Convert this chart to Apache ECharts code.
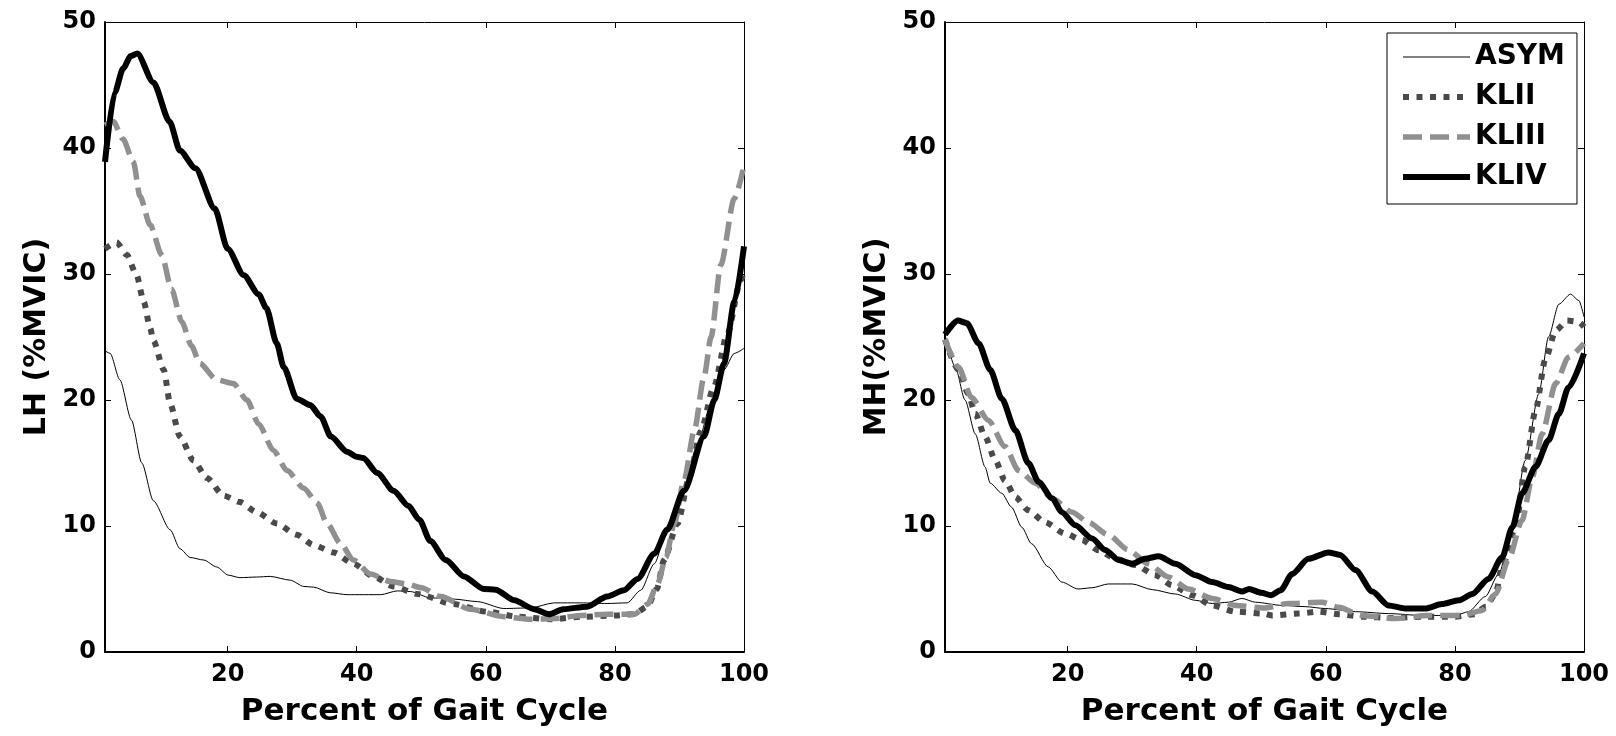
<!DOCTYPE html>
<html>
<head>
<meta charset="utf-8">
<script src="https://cdn.jsdelivr.net/npm/echarts@6/dist/echarts.min.js"></script>
<style>
  html, body { margin: 0; padding: 0; background: #fff; }
  #main { width: 1616px; height: 736px; }
</style>
</head>
<body>
<div id="main"></div>
<script>
// group names, in plotting order
const groupNames = ['ASYM', 'KLII', 'KLIII', 'KLIV'];
const xTicks = [20, 40, 60, 80, 100];
const xTitle = 'Percent of Gait Cycle';
const yTitles = ['LH (%MVIC)', 'MH(%MVIC)'];

// lateral hamstrings, [percent of gait cycle, %MVIC]
const lhAsym = [[1,23.9],[1.8,23.7],[3.3,21.6],[5.1,18.4],[6.7,15.0],[8.5,12.0],[11.1,9.7],[12.6,8.2],[14.2,7.5],[16.3,7.3],[18.3,6.75],[20.1,6.1],[21.9,5.9],[24.5,5.95],[26.6,6.0],[29.7,5.7],[31.8,5.2],[33.3,5.15],[35.9,4.7],[38.5,4.55],[43.7,4.55],[46.3,4.85],[48.3,4.8],[51.4,4.3],[55,4.2],[58.7,4.0],[62.8,3.45],[66.9,3.5],[70.6,3.9],[74.7,3.9],[78.8,3.85],[81.9,3.9],[84,4.9],[86.1,7.0],[88.1,9.7],[90.7,13.1],[92.8,16.5],[94.9,19.7],[96.9,22.4],[98.5,23.7],[100,24.1]];
const lhKl2 = [[1,32.0],[2.8,32.5],[4.4,31.5],[5.9,29.9],[7,27.8],[8,25.7],[8.5,24.7],[10.1,22.4],[11.1,19.7],[12.6,17.1],[14.7,15.2],[16.8,13.8],[19.4,12.4],[21.9,11.9],[24.5,11.1],[27.6,10.2],[30.7,9.3],[33.3,8.5],[36.4,7.9],[39.5,7.0],[42.6,6.0],[45.7,5.2],[49.4,4.6],[55,3.8],[60.2,3.2],[65,2.8],[70,2.6],[75,2.8],[80,2.9],[83,3.0],[85,3.6],[86.5,5.0],[87.6,7.3],[89.7,10.2],[91.5,13.8],[93.3,17.5],[95.3,21],[97.4,25.2],[99.5,29.5],[100,30.3]];
const lhKl3 = [[1,41.8],[2.3,42.1],[3.8,40.7],[5.4,38.9],[6.4,36.2],[8,33.9],[9.8,31.5],[11.3,28.8],[12.9,26.2],[14.4,24.3],[15.7,22.9],[18.3,21.6],[20.9,21.3],[23,20.0],[24.8,18.1],[27.1,16.0],[29.2,14.4],[31.8,13.0],[33.9,11.8],[35.4,10.2],[37.5,8.6],[39.5,7.3],[42.1,6.2],[45.2,5.6],[47.8,5.4],[50,5.1],[53,4.4],[57.6,3.4],[62.8,2.8],[66.9,2.6],[70.6,2.65],[74.7,2.9],[78.8,3.0],[83,3.0],[85.1,3.8],[86.6,5.4],[87.9,7.5],[89.2,10.2],[90.7,13.6],[92.3,17.6],[93.8,21.8],[94.9,25],[96.4,30.7],[98.5,36.0],[100,38.6]];
const lhKl4 = [[1,38.9],[2.5,44.4],[3.8,46.3],[5,47.3],[6,47.5],[8.5,45.2],[11,42.1],[12.6,39.8],[15,38.4],[18,35.2],[20,32.0],[22.5,29.9],[24.8,28.4],[26,27.3],[27.6,24.5],[28.7,22.6],[30.7,20.1],[32.8,19.6],[34.4,18.7],[36,17.1],[38.5,15.9],[40,15.5],[41,15.4],[43.2,14.2],[45.7,12.8],[48,11.6],[49.7,10.5],[51.4,8.8],[53.8,7.3],[56.6,6.0],[59.7,5.0],[61.5,4.95],[64.4,4.1],[67.5,3.4],[69.8,3.0],[72,3.4],[75.7,3.6],[78.8,4.4],[81.4,4.9],[83.5,5.8],[86.1,7.8],[88.1,9.7],[90.7,12.8],[93.8,17.1],[95.4,20],[96.9,22.9],[98.5,27.8],[100,32.2]];

// medial hamstrings
const mhAsym = [[1,25.2],[2.6,22.6],[4.1,20.0],[5.7,17.3],[7.2,14.7],[8,13.4],[9.8,12.6],[11.3,11.5],[12.9,9.9],[14.4,8.6],[17,6.75],[19.1,5.55],[21.6,5.0],[23.8,5.1],[26.3,5.4],[30,5.4],[33.1,4.95],[36.7,4.6],[39.8,4.1],[42.4,3.85],[44.9,3.95],[47,4.25],[49.1,3.95],[53.2,3.7],[56.8,3.6],[59.9,3.45],[64.6,3.2],[69.7,3.05],[74.9,2.9],[80.1,2.9],[82.1,3.2],[84.7,4.4],[86.8,6.2],[88.9,9.9],[90.9,15.2],[93,20.5],[94.5,25.0],[96.1,27.6],[97.9,28.4],[99.2,27.9],[100,26.6]];
const mhKl2 = [[1,24.8],[3.1,22.4],[4.6,20.5],[5.7,18.9],[7.2,17.1],[8.8,15.2],[10.3,13.6],[11.9,12.3],[13.9,11.25],[16.5,10.3],[19.6,9.4],[22.2,8.9],[24.8,8.07],[27.4,7.4],[30.5,6.9],[33.6,6.1],[36.2,5.3],[39.3,4.5],[42.4,3.7],[46,3.2],[50.4,3.05],[51.7,2.9],[55.8,3.05],[58.9,3.2],[62,3.0],[66,2.8],[70,2.7],[75,2.8],[80,2.8],[83,3.0],[84.8,3.6],[86.3,4.6],[87.3,6.75],[89.4,9.9],[90.9,14.7],[92.5,19.2],[94,23.2],[95.6,25.5],[97.4,26.3],[99.2,26.2],[100,25.8]];
const mhKl3 = [[1,24.8],[3.1,22.6],[5.1,20.2],[7.7,18.4],[10.3,16.3],[12.4,14.4],[15,13.4],[17.6,12.2],[20.7,11.1],[23.2,10.3],[26.3,9.3],[29.4,8.1],[32.5,7.0],[35.6,5.95],[38.7,5.0],[42.4,4.25],[46,3.7],[50.5,3.5],[54.2,3.85],[59.4,3.95],[62,3.55],[65.6,2.9],[70.8,2.65],[75.9,2.9],[81.1,2.9],[84.2,3.3],[86.3,4.6],[88.3,7.3],[90.4,10.45],[92,13.9],[93.5,17.3],[95.6,21.3],[97.6,23.4],[100,24.5]];
const mhKl4 = [[1,25.2],[3,26.3],[4.4,26.1],[6.2,24.5],[8,22.4],[9.8,20.1],[11.9,17.6],[13.9,15.0],[15.5,13.5],[17.6,12.2],[19.1,11.1],[21.2,10.05],[23.8,9.0],[25.8,8.1],[27.9,7.3],[30,7.0],[32,7.4],[34.1,7.6],[36.7,7.0],[39.8,6.1],[42.4,5.55],[44.9,5.15],[47,4.8],[48.1,5.0],[50,4.7],[51.5,4.5],[53,4.9],[54.8,6.2],[57.3,7.4],[60.4,7.9],[62.2,7.7],[64.6,6.5],[67.2,4.8],[69.7,3.7],[72.3,3.45],[75.4,3.45],[78,3.8],[80.6,4.1],[82.7,4.6],[85.2,5.8],[87.3,7.5],[88.9,9.9],[90.4,12.6],[92.5,14.7],[94.5,16.8],[96.1,18.9],[97.6,21.0],[100,23.7]];

const panels = [[lhAsym, lhKl2, lhKl3, lhKl4], [mhAsym, mhKl2, mhKl3, mhKl4]];

const font = "'DejaVu Sans', 'Liberation Sans', Arial, sans-serif";
const styles = [
  { color: '#000000', width: 1, type: 'solid' },
  { color: '#4a4a4a', width: 6, type: [6, 7.5] },
  { color: '#909090', width: 5.5, type: [19, 8] },
  { color: '#000000', width: 6, type: 'solid' }
];
const gridLefts = [105, 945];

const textStyle = { color: '#000', fontFamily: font, fontWeight: 'bold' };

let grids = [], xAxes = [], yAxes = [], series = [];
gridLefts.forEach(function (left, i) {
  grids.push({ left: left, top: 22, width: 639, height: 630 });
  // bottom + top x axes (ticks inside, like matlab box)
  xAxes.push({
    gridIndex: i, type: 'value', min: 1, max: 100, position: 'bottom',
    axisLine: { onZero: false, lineStyle: { color: '#000', width: 2 } },
    axisTick: { inside: true, length: 6, customValues: xTicks, lineStyle: { color: '#000' } },
    axisLabel: Object.assign({ customValues: xTicks, margin: 11, fontSize: 24 }, textStyle),
    splitLine: { show: false },
    name: xTitle, nameLocation: 'middle', nameGap: 44,
    nameTextStyle: Object.assign({ fontSize: 31 }, textStyle)
  });
  xAxes.push({
    gridIndex: i, type: 'value', min: 1, max: 100, position: 'top',
    axisLine: { onZero: false, lineStyle: { color: '#000', width: 1 } },
    axisTick: { inside: true, length: 6, customValues: xTicks, lineStyle: { color: '#000' } },
    axisLabel: { show: false, customValues: xTicks },
    splitLine: { show: false }
  });
  yAxes.push({
    gridIndex: i, type: 'value', min: 0, max: 50, interval: 10, position: 'left',
    axisLine: { lineStyle: { color: '#000', width: 2 } },
    axisTick: { inside: true, length: 6, lineStyle: { color: '#000' } },
    axisLabel: Object.assign({ margin: 9, fontSize: 24 }, textStyle),
    splitLine: { show: false },
    name: yTitles[i], nameLocation: 'middle', nameGap: 53,
    nameTextStyle: Object.assign({ fontSize: 30 }, textStyle)
  });
  yAxes.push({
    gridIndex: i, type: 'value', min: 0, max: 50, interval: 10, position: 'right',
    axisLine: { lineStyle: { color: '#000', width: 1 } },
    axisTick: { inside: true, length: 6, lineStyle: { color: '#000' } },
    axisLabel: { show: false },
    splitLine: { show: false }
  });
  panels[i].forEach(function (data, k) {
    series.push({
      name: groupNames[k], type: 'line', data: data,
      xAxisIndex: i * 2, yAxisIndex: i * 2,
      symbol: 'none', smooth: 0.25, smoothMonotone: 'x',
      lineStyle: { color: styles[k].color, width: styles[k].width, type: styles[k].type, cap: 'butt', join: 'round' },
      itemStyle: { color: styles[k].color },
      silent: true
    });
  });
});

let myChart = echarts.init(document.getElementById('main'), null, { renderer: 'canvas' });
myChart.setOption({
  animation: false,
  backgroundColor: '#fff',
  grid: grids,
  xAxis: xAxes,
  yAxis: yAxes,
  legend: {
    orient: 'vertical', left: 1387, top: 33,
    padding: [10, 12, 13, 13],
    itemWidth: 67, itemHeight: 27, itemGap: 12,
    backgroundColor: '#fff', borderColor: '#000', borderWidth: 1, borderRadius: 0,
    selectedMode: false,
    textStyle: Object.assign({ fontSize: 28 }, textStyle),
    // line sample only, no marker in the middle
    itemStyle: { color: 'rgba(0,0,0,0)', borderWidth: 0, opacity: 0 },
    data: groupNames.map(function (n, k) {
      return {
        name: n,
        itemStyle: { color: 'rgba(0,0,0,0)', borderWidth: 0, opacity: 0 },
        lineStyle: { width: styles[k].width, type: styles[k].type, color: styles[k].color }
      };
    })
  },
  series: series
});
</script>
</body>
</html>
